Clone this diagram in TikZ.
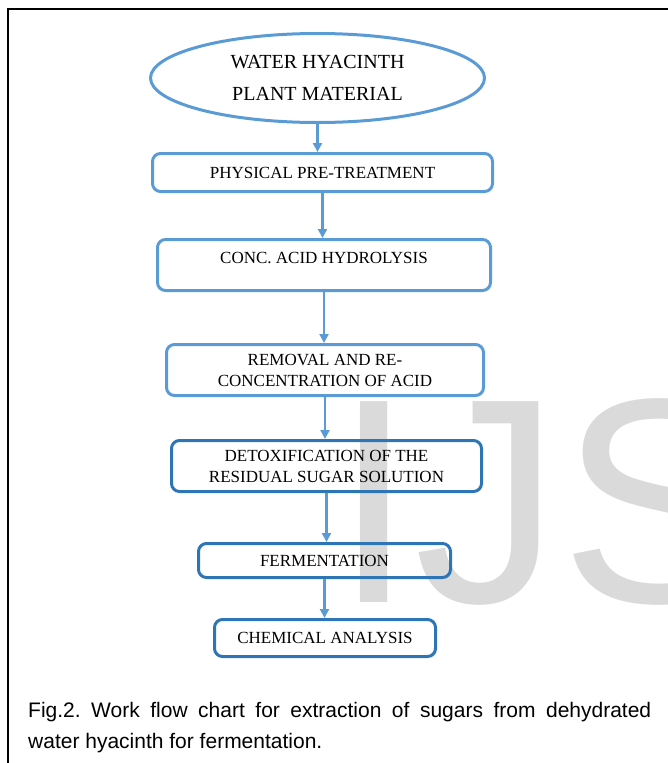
\documentclass[tikz,border=0pt]{standalone}
\usepackage{fontspec}
\setmainfont{Liberation Serif}
\newfontfamily\capfont{Liberation Sans}
\definecolor{flowblue}{RGB}{91, 155, 213}
\definecolor{flowdark}{RGB}{46, 117, 182}
\definecolor{markgray}{RGB}{218, 218, 218}
\usepackage{tikz}
\usetikzlibrary{shapes, arrows.meta, positioning, calc}

\begin{document}
\begin{tikzpicture}[x=1pt, y=-1pt,
  flowbox/.style={draw=flowblue, line width=3pt, rounded corners=8pt, align=center, inner sep=0pt, font=\fontsize{17}{21}\selectfont},
  darkbox/.style={flowbox, draw=flowdark},
  flowarrow/.style={draw=flowblue, line width=2.2pt, -{Triangle[length=9pt, width=9pt]}}]
  \useasboundingbox (0,0) rectangle (668,763);
  \clip (0,0) rectangle (668,763);

  % watermark behind the chart
  \node[anchor=base west, inner sep=0pt, text=markgray, font=\capfont\fontsize{292}{292}\selectfont] (mark) at (333,602) {IJS};

  % frame
  \draw[line width=2pt] (8,9) rectangle (700,800);

  \node[ellipse, draw=flowblue, line width=3pt, minimum width=334pt, minimum height=89pt, inner sep=0pt, align=center, font=\fontsize{20}{25}\selectfont] (plant) at (317.5,78) {WATER HYACINTH\\[7pt]PLANT MATERIAL};
  \node[flowbox, minimum width=340pt, minimum height=38pt] (physical) at (322.5,172.5) {PHYSICAL PRE-TREATMENT};
  \node[flowbox, minimum width=333pt, minimum height=51pt, text depth=14pt] (hydrolysis) at (324,265) {CONC. ACID HYDROLYSIS};
  \node[flowbox, minimum width=317pt, minimum height=51pt] (removal) at (325,370) {REMOVAL AND RE-\\CONCENTRATION OF ACID};
  \node[darkbox, minimum width=310pt, minimum height=51pt] (detox) at (326.5,466) {DETOXIFICATION OF THE\\RESIDUAL SUGAR SOLUTION};
  \node[darkbox, minimum width=252pt, minimum height=34pt] (ferment) at (324.5,560.5) {FERMENTATION};
  \node[darkbox, minimum width=221pt, minimum height=37pt] (analysis) at (325,638) {CHEMICAL ANALYSIS};

  \draw[flowarrow] (plant.south) -- (plant.south |- physical.north);
  \draw[flowarrow] (physical.south) -- (physical.south |- hydrolysis.north);
  \draw[flowarrow] (hydrolysis.south) -- (hydrolysis.south |- removal.north);
  \draw[flowarrow] (removal.south) -- (removal.south |- detox.north);
  \draw[flowarrow] (detox.south) -- (detox.south |- ferment.north);
  \draw[flowarrow] (ferment.south) -- (ferment.south |- analysis.north);

  \node[anchor=north west, text width=623pt, align=justify, inner sep=0pt, font=\capfont\fontsize{21}{31}\selectfont] (caption) at (28,702) {\frenchspacing Fig.2. Work flow chart for extraction of sugars from dehydrated\linebreak water hyacinth for fermentation.};
\end{tikzpicture}
\end{document}
